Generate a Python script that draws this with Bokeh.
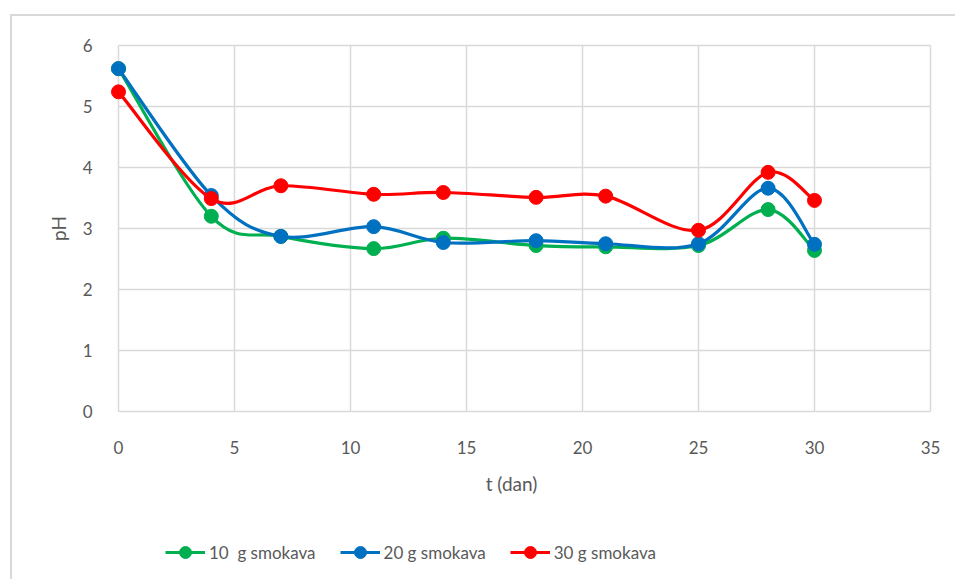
import math
from bokeh.plotting import figure
from bokeh.models import ColumnDataSource, Legend, LegendItem, FixedTicker, Range1d, Label
from bokeh.embed import file_html
from bokeh.resources import INLINE

days = [0, 4, 7, 11, 14, 18, 21, 25, 28, 30]
ph_10g = [5.62, 3.20, 2.87, 2.67, 2.84, 2.72, 2.70, 2.72, 3.31, 2.64]
ph_20g = [5.62, 3.54, 2.87, 3.03, 2.77, 2.80, 2.75, 2.75, 3.66, 2.74]
ph_30g = [5.24, 3.49, 3.70, 3.56, 3.59, 3.51, 3.53, 2.97, 3.92, 3.46]
x_ticks = [0, 5, 10, 15, 20, 25, 30, 35]
y_ticks = [0, 1, 2, 3, 4, 5, 6]
x_title = "t (dan)"
y_title = "pH"

series = [
    ("10  g smokava", ph_10g, "#00B050"),
    ("20 g smokava", ph_20g, "#0070C0"),
    ("30 g smokava", ph_30g, "#FF0000"),
]

FONT = "Lato"
GRAY = "#595959"
GRID = "#d9d9d9"

p = figure(width=945, height=565, output_backend="svg", toolbar_location=None,
           x_range=Range1d(-4.569, 36.164), y_range=Range1d(-2.787, 6.475),
           min_border_left=0, min_border_right=0, min_border_top=0,
           min_border_bottom=0)
p.margin = (14, 0, 0, 10)
p.styles = {"border-top": "2px solid #d9d9d9", "border-left": "2px solid #d9d9d9"}
p.outline_line_color = None
p.background_fill_color = "white"


def smooth_segments(xs, ys):
    n = len(xs)
    out = dict(x0=[], y0=[], x1=[], y1=[], cx0=[], cy0=[], cx1=[], cy1=[])
    for i in range(n - 1):
        xm, ym = (xs[i - 1], ys[i - 1]) if i > 0 else (xs[i], ys[i])
        xp, yp = (xs[i + 2], ys[i + 2]) if i + 2 < n else (xs[i + 1], ys[i + 1])
        out["x0"].append(xs[i]); out["y0"].append(ys[i])
        out["x1"].append(xs[i + 1]); out["y1"].append(ys[i + 1])
        out["cx0"].append(xs[i] + (xs[i + 1] - xm) / 6)
        out["cy0"].append(ys[i] + (ys[i + 1] - ym) / 6)
        out["cx1"].append(xs[i + 1] - (xp - xs[i]) / 6)
        out["cy1"].append(ys[i + 1] - (yp - ys[i]) / 6)
    return out

items = []
for label, vals, color in series:
    seg = ColumnDataSource(smooth_segments(days, vals))
    br = p.bezier(x0="x0", y0="y0", x1="x1", y1="y1", cx0="cx0", cy0="cy0",
                  cx1="cx1", cy1="cy1", source=seg, line_color=color, line_width=3.2)
    sr = p.scatter(days, vals, size=14, fill_color=color, line_color=color)
    items.append(LegendItem(label=label, renderers=[br, sr], index=0))

legend = Legend(items=items, orientation="horizontal", location=(153, 14),
                label_text_font=FONT, label_text_font_size="17px",
                label_text_color=GRAY, border_line_color=None,
                background_fill_alpha=0,
                glyph_width=40, glyph_height=30, spacing=24, label_standoff=4,
                margin=0, padding=0)
p.add_layout(legend, "center")

for ax in (p.xaxis[0], p.yaxis[0]):
    ax.axis_line_color = None
    ax.major_tick_line_color = None
    ax.minor_tick_line_color = None
    ax.major_label_text_font = FONT
    ax.major_label_text_font_size = "17px"
    ax.major_label_text_color = GRAY

p.xaxis.ticker = FixedTicker(ticks=x_ticks)
p.yaxis.ticker = FixedTicker(ticks=y_ticks)
p.xaxis.fixed_location = 0
p.yaxis.fixed_location = 0
p.xaxis.major_label_standoff = 24
p.yaxis.major_label_standoff = 20

p.add_layout(Label(x=16.94, y=-1.18, text=x_title, text_align="center",
                   text_baseline="middle", text_font=FONT, text_font_size="19px",
                   text_color=GRAY))
p.add_layout(Label(x=-2.586, y=3.0, text=y_title, text_align="center",
                   text_baseline="middle", text_font=FONT, text_font_size="19px",
                   text_color=GRAY, angle=math.pi / 2))

p.xgrid.ticker = FixedTicker(ticks=x_ticks)
p.ygrid.ticker = FixedTicker(ticks=y_ticks)
p.xgrid.cross_bounds = (0, 6)
p.ygrid.cross_bounds = (0, 35)
p.xgrid.grid_line_color = GRID
p.ygrid.grid_line_color = GRID
p.xgrid.grid_line_width = 1.5
p.ygrid.grid_line_width = 1.5

open("out.html", "w").write(file_html(p, INLINE))
